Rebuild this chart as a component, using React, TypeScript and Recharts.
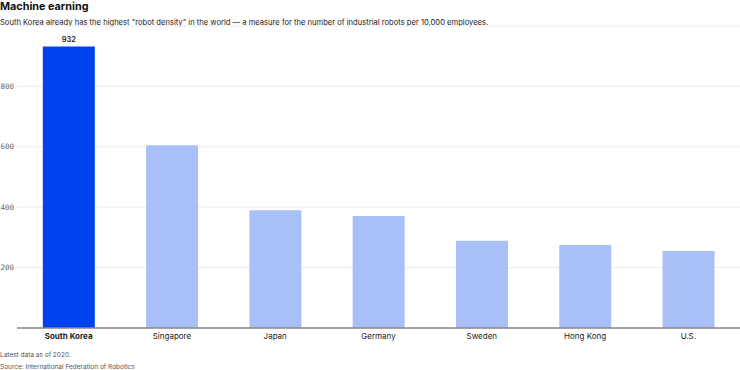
import React from 'react';
import { BarChart, Bar, XAxis, YAxis, CartesianGrid, Cell, LabelList } from 'recharts';

const countries = ['South Korea', 'Singapore', 'Japan', 'Germany', 'Sweden', 'Hong Kong', 'U.S.'];
const robotDensity = [932, 605, 390, 371, 289, 275, 255];
const yTicks = [200, 400, 600, 800];

const HIGHLIGHT = 'South Korea';

const data = countries.map((name, i) => ({ name, value: robotDensity[i] }));

const FONT = 'Inter, "Noto Sans", sans-serif';

const CountryTick = (props: any) => {
  const { x, y, payload } = props;
  const bold = payload.value === HIGHLIGHT;
  return (
    <text
      x={x}
      y={y}
      dy="0.71em"
      textAnchor="middle"
      fontFamily={FONT}
      fontSize={8}
      fontWeight={bold ? 700 : 400}
      fill="#222"
    >
      {payload.value}
    </text>
  );
};

const TopLabel = (props: any) => {
  const { x, y, width, value, index } = props;
  if (index !== 0) return null;
  return (
    <text
      x={x + width / 2}
      y={y - 5}
      textAnchor="middle"
      fontFamily={FONT}
      fontSize={7.5}
      fontWeight={600}
      fill="#222"
    >
      {value}
    </text>
  );
};

export default function App() {
  return (
    <div style={{ position: 'relative', width: 740, height: 370, background: '#fff', fontFamily: FONT }}>
      <style>{`body{margin:0}`}</style>
      <div style={{ position: 'absolute', left: 0, top: 0, fontSize: 10.8, fontWeight: 700, color: '#111' }}>
        Machine earning
      </div>
      <div style={{ position: 'absolute', left: 0, top: 17.5, fontSize: 7.6, color: '#222' }}>
        South Korea already has the highest "robot density" in the world — a measure for the number of industrial robots per 10,000 employees.
      </div>
      <div style={{ position: 'absolute', top: 0, left: 0 }}>
        <BarChart
          width={740}
          height={370}
          data={data}
          margin={{ top: 26, right: 0, bottom: 0, left: 0 }}
          barCategoryGap="25%"
        >
          <CartesianGrid vertical={false} stroke="#ececec" />
          <YAxis
            width={17}
            domain={[0, 1000]}
            ticks={yTicks}
            axisLine={false}
            tickLine={false}
            tickSize={0}
            tickMargin={3}
            tick={{ fontFamily: '"DejaVu Sans Mono", monospace', fontSize: 7.5, fill: '#666' }}
          />
          <XAxis
            dataKey="name"
            height={42}
            tickLine={false}
            tickSize={0}
            tickMargin={5}
            interval={0}
            axisLine={{ stroke: '#888', strokeWidth: 1.5 }}
            tick={<CountryTick />}
          />
          <Bar dataKey="value" isAnimationActive={false}>
            {data.map((d) => (
              <Cell key={d.name} fill={d.name === HIGHLIGHT ? '#0043EE' : '#A8BFF8'} />
            ))}
            <LabelList dataKey="value" content={<TopLabel />} />
          </Bar>
        </BarChart>
      </div>
      <div style={{ position: 'absolute', left: 0, top: 351, fontSize: 6.5, color: '#555' }}>
        Latest data as of 2020.
      </div>
      <div style={{ position: 'absolute', left: 0, top: 363, fontSize: 6.5, color: '#555' }}>
        Source: International Federation of Robotics
      </div>
    </div>
  );
}
